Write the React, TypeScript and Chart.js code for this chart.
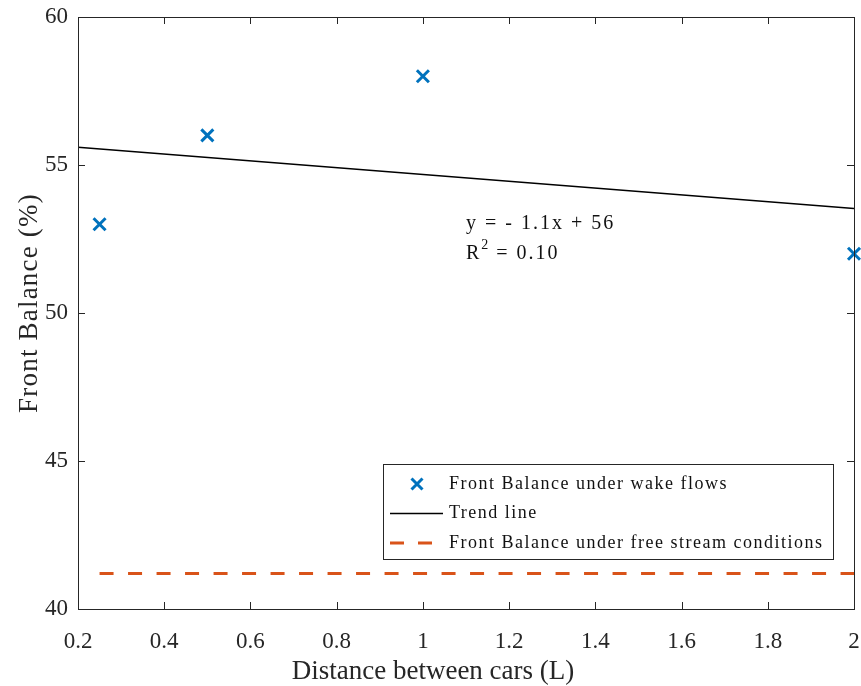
import { useEffect, useRef } from "react";
import { Chart, registerables } from "chart.js";

Chart.register(...registerables);

// Measured front balance behind a leading car
const distances = [0.25, 0.5, 1, 2];
const frontBalanceWake = [53, 56, 58, 52];

// Least-squares trend line, evaluated at the axis ends
const trendX = [0.2, 2];
const trendY = [55.6, 53.53];

// Front balance with no car ahead
const freeStreamX = [0.25, 2];
const freeStreamY = [41.2, 41.2];

const equationText = "y = - 1.1x + 56";
const r2Text = "= 0.10";

const xTitle = "Distance between cars (L)";
const yTitle = "Front Balance (%)";

const legendLabels = [
  "Front Balance under wake flows",
  "Trend line",
  "Front Balance under free stream conditions",
];

const BLUE = "#0072BD";
const ORANGE = "#D95319";
const AXIS = "#262626";
const SERIF = "'Liberation Serif', 'DejaVu Serif', serif";

// tick labels may hang past the plot box instead of shrinking it
const zeroPaddingPlugin = {
  id: "zeroScalePadding",
  beforeLayout(chart: any) {
    Object.values(chart.scales).forEach((s: any) => {
      s.getPadding = () => ({ left: 0, right: 0, top: 0, bottom: 0 });
    });
  },
};

const framePlugin = {
  id: "matlabFrame",
  afterDatasetsDraw(chart: any) {
    const { ctx, chartArea: a, scales } = chart;
    const xs = scales.x;
    const ys = scales.y;
    ctx.save();

    // axes box with inward ticks
    ctx.strokeStyle = AXIS;
    ctx.lineWidth = 1;
    ctx.strokeRect(a.left + 0.5, a.top + 0.5, a.right - a.left, a.bottom - a.top);
    const tl = 7;
    ctx.beginPath();
    xs.ticks.forEach((t: any) => {
      const px = Math.round(xs.getPixelForValue(t.value)) + 0.5;
      ctx.moveTo(px, a.bottom);
      ctx.lineTo(px, a.bottom - tl);
      ctx.moveTo(px, a.top);
      ctx.lineTo(px, a.top + tl);
    });
    ys.ticks.forEach((t: any) => {
      const py = Math.round(ys.getPixelForValue(t.value)) + 0.5;
      ctx.moveTo(a.left, py);
      ctx.lineTo(a.left + tl, py);
      ctx.moveTo(a.right, py);
      ctx.lineTo(a.right - tl, py);
    });
    ctx.stroke();

    // axis titles
    ctx.fillStyle = AXIS;
    ctx.textBaseline = "middle";
    ctx.textAlign = "center";
    ctx.font = `27px ${SERIF}`;
    ctx.fillText(xTitle, 433, 672);
    ctx.save();
    ctx.translate(30, 303);
    ctx.rotate(-Math.PI / 2);
    (ctx as any).letterSpacing = "1.2px";
    ctx.fillText(yTitle, 0, 0);
    ctx.restore();

    // regression annotation
    ctx.fillStyle = "#111";
    ctx.textAlign = "left";
    ctx.font = `20px ${SERIF}`;
    (ctx as any).letterSpacing = "2px";
    const ax = xs.getPixelForValue(1.1);
    const ay = ys.getPixelForValue(53.05) + 1;
    ctx.fillText(equationText, ax, ay);
    const ry = ay + 30;
    ctx.fillText("R", ax, ry);
    const rw = ctx.measureText("R").width;
    ctx.font = `14px ${SERIF}`;
    ctx.fillText("2", ax + rw, ry - 8);
    const sw = ctx.measureText("2").width;
    ctx.font = `20px ${SERIF}`;
    ctx.fillText(r2Text, ax + rw + sw + 6, ry);

    // legend
    const lx = 383;
    const lw = a.right - 21 - lx;
    const ly = 464;
    const lh = 95;
    ctx.fillStyle = "#fff";
    ctx.fillRect(lx, ly, lw, lh);
    ctx.strokeStyle = AXIS;
    ctx.lineWidth = 1;
    ctx.strokeRect(lx + 0.5, ly + 0.5, lw, lh);
    const rowY = [ly + 20, ly + 49.5, ly + 79];
    const textX = lx + 66;
    ctx.font = `18px ${SERIF}`;
    (ctx as any).letterSpacing = "1.5px";
    ctx.fillStyle = "#111";
    legendLabels.forEach((lab, i) => ctx.fillText(lab, textX, rowY[i]));
    (ctx as any).letterSpacing = "0px";
    // marker sample
    ctx.strokeStyle = BLUE;
    ctx.lineWidth = 3;
    const mx = lx + 34;
    const my = rowY[0];
    ctx.beginPath();
    ctx.moveTo(mx - 5.5, my - 5.5);
    ctx.lineTo(mx + 5.5, my + 5.5);
    ctx.moveTo(mx + 5.5, my - 5.5);
    ctx.lineTo(mx - 5.5, my + 5.5);
    ctx.stroke();
    // trend sample
    ctx.strokeStyle = "#000";
    ctx.lineWidth = 1.5;
    ctx.beginPath();
    ctx.moveTo(lx + 7, rowY[1]);
    ctx.lineTo(lx + 60, rowY[1]);
    ctx.stroke();
    // free stream sample
    ctx.strokeStyle = ORANGE;
    ctx.lineWidth = 3;
    ctx.setLineDash([14, 14]);
    ctx.beginPath();
    ctx.moveTo(lx + 7, rowY[2]);
    ctx.lineTo(lx + 60, rowY[2]);
    ctx.stroke();
    ctx.setLineDash([]);

    ctx.restore();
  },
};

export default function App() {
  const ref = useRef<HTMLCanvasElement | null>(null);

  useEffect(() => {
    document.body.style.margin = "0";
    const canvas = ref.current;
    if (!canvas) return;
    const chart = new Chart(canvas, {
      type: "scatter",
      data: {
        datasets: [
          {
            label: legendLabels[2],
            data: freeStreamX.map((x, i) => ({ x, y: freeStreamY[i] })),
            showLine: true,
            borderColor: ORANGE,
            borderWidth: 3,
            borderDash: [14, 14.5],
            pointRadius: 0,
            clip: false,
          },
          {
            label: legendLabels[1],
            data: trendX.map((x, i) => ({ x, y: trendY[i] })),
            showLine: true,
            borderColor: "#000",
            borderWidth: 1.5,
            pointRadius: 0,
          },
          {
            label: legendLabels[0],
            data: distances.map((x, i) => ({ x, y: frontBalanceWake[i] })),
            showLine: false,
            pointStyle: "crossRot",
            pointRadius: 8.5,
            pointBorderWidth: 3,
            borderColor: BLUE,
            backgroundColor: BLUE,
            clip: false,
          },
        ],
      },
      options: {
        animation: false,
        responsive: true,
        maintainAspectRatio: false,
        layout: {
          autoPadding: false,
          padding: { left: 0, top: 17, right: 7, bottom: 0 },
        },
        plugins: {
          legend: { display: false },
          tooltip: { enabled: false },
        },
        scales: {
          x: {
            type: "linear",
            min: 0.2,
            max: 2,
            ticks: {
              stepSize: 0.2,
              padding: 19,
              color: AXIS,
              font: { family: SERIF, size: 23 },
              callback: (v: any) => String(Math.round(Number(v) * 10) / 10),
              maxRotation: 0,
              autoSkip: false,
            },
            grid: { display: false, drawTicks: false },
            border: { display: false },
            afterFit: (s: any) => {
              s.height = 77;
            },
          },
          y: {
            type: "linear",
            min: 40,
            max: 60,
            ticks: {
              stepSize: 5,
              padding: 10,
              color: AXIS,
              font: { family: SERIF, size: 23 },
            },
            grid: { display: false, drawTicks: false },
            border: { display: false },
            afterFit: (s: any) => {
              s.width = 78;
            },
          },
        },
      },
      plugins: [zeroPaddingPlugin, framePlugin],
    });
    return () => chart.destroy();
  }, []);

  return (
    <div style={{ width: 861, height: 686, position: "relative" }}>
      <canvas ref={ref} />
    </div>
  );
}
